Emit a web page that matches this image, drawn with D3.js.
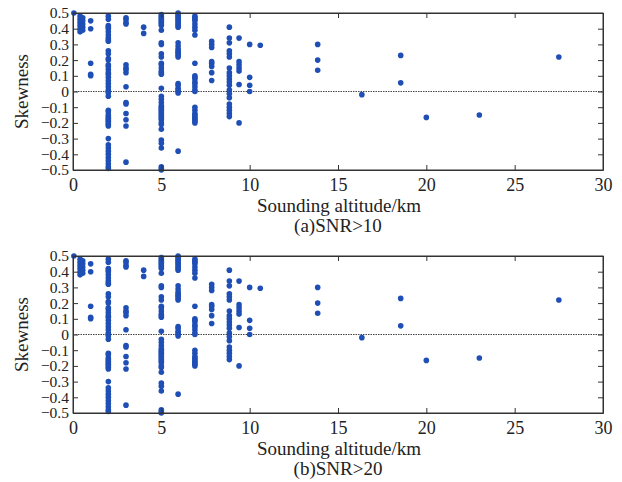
<!DOCTYPE html>
<html><head><meta charset="utf-8">
<script src="https://cdn.jsdelivr.net/npm/d3@7"></script>
<style>body{margin:0;background:#fff;} text{font-family:"Liberation Serif","Times New Roman",serif;}</style>
</head><body>
<svg id="c" width="622" height="482"></svg>
<script>
// Sounding altitude (km) of each column of points
const altitudes = [0.05, 0.4, 0.55, 1.0, 2.0, 3.0, 4.0, 5.0, 5.95, 6.9, 7.85, 8.85, 9.4, 10.0, 10.6, 13.85, 16.35, 18.55, 20.0, 23.0, 27.5];
// Skewness values at each altitude (same in both panels)
const skewness = [
  [0.50],
  [0.48, 0.46, 0.44, 0.42, 0.40, 0.38],
  [0.47, 0.45, 0.43, 0.41, 0.39],
  [0.45, 0.40, 0.18, 0.11, 0.10],
  [0.48, 0.46, 0.42, 0.41, 0.40, 0.38, 0.36, 0.34, 0.33, 0.32, 0.26, 0.24, 0.21, 0.20, 0.17, 0.16, 0.14, 0.12, 0.11, 0.09, 0.07, 0.05, 0.03, 0.01, 0.00, -0.01, -0.03,
   -0.12, -0.13, -0.15, -0.16, -0.17, -0.18, -0.19, -0.20, -0.21, -0.22, -0.30, -0.34, -0.36, -0.38, -0.40, -0.42, -0.44, -0.46, -0.48, -0.49],
  [0.47, 0.46, 0.44, 0.43, 0.17, 0.15, 0.14, 0.12, 0.03, -0.07, -0.08, -0.14, -0.18, -0.22, -0.45],
  [0.41, 0.37],
  [0.49, 0.48, 0.47, 0.46, 0.45, 0.44, 0.43, 0.42, 0.39, 0.31, 0.30, 0.24, 0.22, 0.18, 0.17, 0.15, 0.13, 0.12, 0.11, 0.02,
   -0.03, -0.05, -0.07, -0.09, -0.10, -0.11, -0.12, -0.13, -0.14, -0.15, -0.16, -0.17, -0.18, -0.20, -0.21, -0.24, -0.31, -0.33, -0.36, -0.48, -0.49, -0.50],
  [0.50, 0.49, 0.48, 0.47, 0.46, 0.45, 0.44, 0.43, 0.42, 0.41, 0.31, 0.29, 0.27, 0.26, 0.25, 0.24, 0.23, 0.22, 0.05, 0.04, 0.02, 0.01, 0.00, -0.01, -0.38],
  [0.48, 0.47, 0.46, 0.45, 0.43, 0.41, 0.39, 0.36, 0.18, 0.10, 0.09, 0.08, 0.06, 0.05, 0.03, 0.01, 0.00, -0.10, -0.12, -0.14, -0.15, -0.16, -0.17, -0.18, -0.19, -0.20],
  [0.32, 0.30, 0.28, 0.19, 0.18, 0.16, 0.12, 0.07],
  [0.41, 0.34, 0.31, 0.26, 0.24, 0.22, 0.15, 0.12, 0.10, 0.08, 0.06, 0.04, 0.01, -0.015, -0.04, -0.08, -0.10, -0.12, -0.14, -0.16],
  [0.34, 0.19, 0.17, 0.15, 0.13, 0.045, -0.20],
  [0.30, 0.09, 0.04, 0.00],
  [0.295],
  [0.30, 0.20, 0.135],
  [-0.02],
  [0.23, 0.055],
  [-0.165],
  [-0.15],
  [0.22]
];
const xTicks = [0, 5, 10, 15, 20, 25, 30];
const yTicks = [0.5, 0.4, 0.3, 0.2, 0.1, 0, -0.1, -0.2, -0.3, -0.4, -0.5];
const panelTitles = ["(a)SNR>10", "(b)SNR>20"];
const xLabel = "Sounding altitude/km";
const yLabel = "Skewness";

const points = [];
altitudes.forEach((a, i) => skewness[i].forEach(s => points.push({x: a, y: s})));

const svg = d3.select("#c");
const left = 73, width = 530, height = 157;
const tops = [13, 256];
const x = d3.scaleLinear().domain([0, 30]).range([0, width]);
const y = d3.scaleLinear().domain([-0.5, 0.5]).range([height, 0]);
const fmt = d => d < 0 ? "\u2212" + d3.format(".1f")(-d) : (d === 0 ? "0" : d3.format(".1f")(d));
const axisCol = "#333";

tops.forEach((top, p) => {
  const g = svg.append("g").attr("transform", `translate(${left},${top})`);
  // zero line
  g.append("line").attr("x1", 0).attr("x2", width).attr("y1", y(0)).attr("y2", y(0))
    .attr("stroke", "#444").attr("stroke-width", 1).attr("stroke-dasharray", "1.5,1");
  // points
  g.selectAll("circle").data(points).join("circle")
    .attr("cx", d => x(d.x)).attr("cy", d => y(d.y)).attr("r", 2.8).attr("fill", "#1f4fb5");
  // axes
  const xb = g.append("g").attr("transform", `translate(0,${height})`)
    .call(d3.axisBottom(x).tickValues(xTicks).tickSizeInner(-5).tickSizeOuter(0).tickPadding(8).tickFormat(d3.format("d")));
  const xt = g.append("g").call(d3.axisTop(x).tickValues(xTicks).tickSizeInner(-5).tickSizeOuter(0).tickFormat(""));
  const yl = g.append("g").call(d3.axisLeft(y).tickValues(yTicks).tickSizeInner(-5).tickSizeOuter(0).tickPadding(4).tickFormat(fmt));
  const yr = g.append("g").attr("transform", `translate(${width},0)`)
    .call(d3.axisRight(y).tickValues(yTicks).tickSizeInner(-5).tickSizeOuter(0).tickFormat(""));
  [xb, xt, yl, yr].forEach(a => {
    a.select(".domain").attr("stroke", axisCol);
    a.selectAll(".tick line").attr("stroke", axisCol);
    a.selectAll("text").attr("fill", "#222").style("font-family", "Liberation Serif, serif");
  });
  xb.selectAll("text").attr("dy", "0.71em").style("font-size", "18px");
  yl.selectAll("text").style("font-size", "15.5px");
  // frame
  g.append("rect").attr("width", width).attr("height", height).attr("fill", "none").attr("stroke", axisCol).attr("stroke-width", 1);
  // labels
  g.append("text").attr("transform", `translate(-45,${height / 2}) rotate(-90)`).attr("text-anchor", "middle")
    .attr("fill", "#222").style("font-size", "19px").text(yLabel);
  g.append("text").attr("x", 266).attr("y", height + 42).attr("text-anchor", "middle")
    .attr("fill", "#222").style("font-size", "19px").text(xLabel);
  g.append("text").attr("x", 265).attr("y", height + 62).attr("text-anchor", "middle")
    .attr("fill", "#222").style("font-size", "19px").text(panelTitles[p]);
});
</script>
</body></html>
